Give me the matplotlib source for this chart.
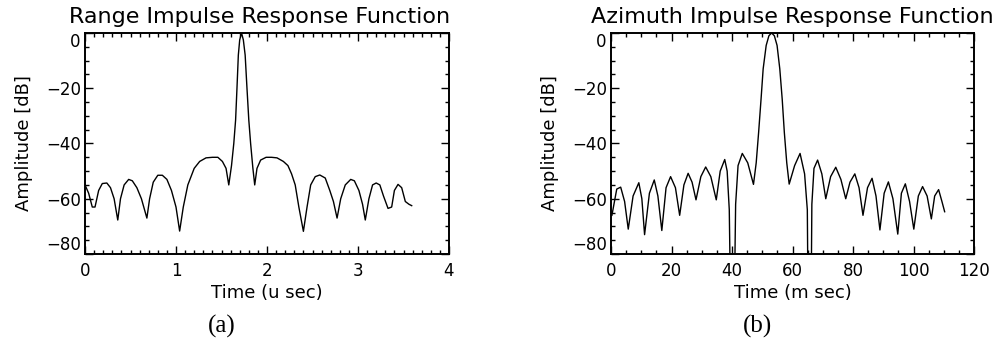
import numpy as np
import matplotlib
matplotlib.use('Agg')
import matplotlib.pyplot as plt
from matplotlib.ticker import MultipleLocator

# range impulse response (time in u sec, amplitude in dB)
range_t = [0.00, 0.04, 0.08, 0.11, 0.15, 0.19, 0.24, 0.28, 0.32, 0.36,
           0.39, 0.43, 0.48, 0.52, 0.57, 0.62, 0.68, 0.71, 0.75, 0.80,
           0.85, 0.90, 0.95, 1.00, 1.04, 1.08, 1.13, 1.20, 1.26, 1.33,
           1.40, 1.46, 1.51, 1.55, 1.58, 1.61, 1.635, 1.655, 1.67, 1.685,
           1.70, 1.72, 1.74, 1.76, 1.78, 1.80, 1.82, 1.845, 1.865, 1.89,
           1.93, 1.99, 2.05, 2.11, 2.18, 2.23, 2.27, 2.31, 2.35, 2.40,
           2.44, 2.48, 2.53, 2.58, 2.64, 2.69, 2.73, 2.77, 2.81, 2.86,
           2.92, 2.96, 3.01, 3.05, 3.08, 3.12, 3.16, 3.20, 3.24, 3.28,
           3.33, 3.37, 3.40, 3.44, 3.48, 3.52, 3.56, 3.59]
range_db = [-55, -58, -63, -63, -57, -54.5, -54.3, -56, -60, -67.7,
            -60, -55, -53, -53.5, -56, -60, -67, -60, -54, -51.5,
            -51.5, -53, -57, -63, -71.7, -63, -55, -49, -46.5, -45.2,
            -45, -45, -46.5, -49, -55, -48, -40, -31.5, -20, -8,
            -2.5, 0, -2.5, -8, -20, -31.5, -40, -49, -55, -49,
            -46, -45, -45, -45.2, -46.5, -48, -51, -55, -63, -71.8,
            -63, -55, -52, -51.4, -52.5, -57, -61, -67, -60, -55,
            -53, -53.5, -57, -62, -67.7, -60, -55, -54.3, -55, -59,
            -63.5, -63, -57, -54.8, -56, -61, -62, -62.5]

# azimuth impulse response (time in m sec, amplitude in dB)
azimuth_t = [0.3, 1.9, 3.2, 4.5, 5.7, 7.3, 9.2, 10.2, 11.1, 12.7,
             14.3, 15.5, 16.8, 18.2, 19.7, 21.3, 22.7, 24.1, 25.5, 26.8,
             28.1, 29.7, 31.3, 33.0, 34.8, 36.1, 37.6, 38.4, 39.1, 39.8,
             40.5, 41.2, 42.0, 43.4, 45.2, 47.1, 48.0, 48.8, 49.6, 50.3,
             51.3, 52.2, 53.1, 54.0, 54.9, 55.8, 56.6, 57.3, 58.1, 58.9,
             60.7, 62.5, 64.0, 64.9, 65.3, 66.0, 66.4, 67.1, 68.3, 69.7,
             71.0, 72.6, 74.3, 76.0, 77.6, 79.0, 80.6, 82.0, 83.3, 84.8,
             86.3, 87.6, 88.9, 90.3, 91.7, 93.2, 94.8, 96.0, 97.3, 98.7,
             100.1, 101.6, 103.0, 104.5, 105.9, 107.0, 108.3, 109.4, 110.3]
azimuth_db = [-66, -56.5, -55.8, -61, -71, -59, -54.2, -60, -73, -58,
              -53.2, -59, -71.5, -56, -52, -56, -66, -55, -50.8, -54,
              -60.4, -52, -48.5, -52, -60.4, -50, -45.8, -50, -64, -120,
              -120, -62, -48, -43.6, -47, -54.8, -47, -36, -24, -13,
              -4.5, -1, 0, -1, -4.5, -13, -24, -36, -47, -54.7,
              -48, -43.6, -51, -64, -120, -120, -62, -49, -46, -51,
              -60, -52, -48.6, -53, -60, -54, -51, -56, -66, -56,
              -52.6, -59, -71.3, -58, -53.9, -60, -72.8, -58, -54.6, -61,
              -71, -59, -55.6, -59, -67.3, -59, -56.7, -61, -64.7]

db_ticks = [-80, -60, -40, -20, 0]


def idl_axes(ax, xmax, xmajor, xminor):
    ax.set_xlim(0, xmax)
    ax.set_ylim(-80, 0)
    ax.xaxis.set_major_locator(MultipleLocator(xmajor))
    ax.xaxis.set_minor_locator(MultipleLocator(xminor))
    ax.set_yticks(db_ticks)
    ax.yaxis.set_minor_locator(MultipleLocator(5))
    ax.tick_params(which='both', direction='in', top=True, right=True,
                   labelsize=12, width=1)
    ax.tick_params(which='major', length=6)
    ax.tick_params(which='minor', length=3)
    ax.tick_params(axis='x', pad=6)
    ax.tick_params(axis='y', pad=3)
    # IDL keeps the end labels inside the axis range
    ylabels = ax.get_yticklabels()
    ylabels[0].set_va('bottom')
    ylabels[-1].set_va('top')
    for s in ax.spines.values():
        s.set_linewidth(1.4)


fig = plt.figure(figsize=(10, 3.59), dpi=100)
ax1 = fig.add_axes([0.085, 0.2925, 0.364, 0.6156])
ax2 = fig.add_axes([0.611, 0.2925, 0.363, 0.6156])

ax1.plot(range_t, range_db, color='black', lw=1.0)
idl_axes(ax1, 4, 1, 0.1)
ax1.set_title('Range Impulse Response Function', fontsize=16, pad=7, x=0.48)
ax1.set_xlabel('Time (u sec)', fontsize=13, labelpad=3)
ax1.set_ylabel('Amplitude [dB]', fontsize=13, labelpad=9)

ax2.plot(azimuth_t, azimuth_db, color='black', lw=1.0)
idl_axes(ax2, 120, 20, 5)
ax2.set_title('Azimuth Impulse Response Function', fontsize=16, pad=7)
ax2.set_xlabel('Time (m sec)', fontsize=13, labelpad=3)
ax2.set_ylabel('Amplitude [dB]', fontsize=13, labelpad=9)

fig.text(0.222, 0.09, '(a)', family='Liberation Serif', fontsize=18,
         ha='center', va='center')
fig.text(0.758, 0.09, '(b)', family='Liberation Serif', fontsize=18,
         ha='center', va='center')

fig.savefig('out.png', dpi=100, facecolor='white')
